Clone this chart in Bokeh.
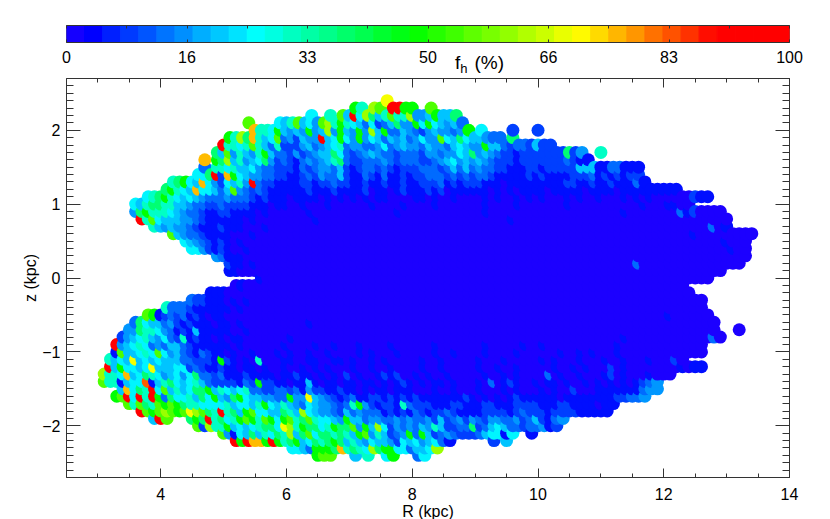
from bokeh.plotting import figure
from bokeh.layouts import column
from bokeh.models import (ColumnDataSource, LinearColorMapper, LinearAxis, FixedTicker,
                          Range1d, Div)
from bokeh.embed import file_html
from bokeh.resources import INLINE
import numpy as np

# colour-class percent values (fh, %) used by the table below
level_codes = "0123456789abcdef"
level_fh = [0.4, 5, 9, 13, 17, 21, 25, 31, 38, 48, 55, 62, 70, 76, 83, 96]

# heights of the rows (kpc)
z_rows = [2.4, 2.3, 2.2, 2.1, 2.0, 1.9, 1.8, 1.7, 1.6, 1.5, 1.4, 1.3, 1.2, 1.1, 1.0, 0.9, 0.8, 0.7,
          0.6, 0.5, 0.4, 0.3, 0.2, 0.1, 0.0, -0.1, -0.2, -0.3, -0.4, -0.5, -0.6, -0.7, -0.8, -0.9,
          -1.0, -1.1, -1.2, -1.3, -1.4, -1.5, -1.6, -1.7, -1.8, -1.9, -2.0, -2.1, -2.2, -2.3, -2.4]

# first R of each text block; one char = one cell of 0.1 kpc, "." = no cell, "-" = empty block
block_R = [3, 4, 5, 6, 7, 8, 9, 10, 11, 12, 13]
fh_rows = [
 "- - - - ......c...",
 "- - - - .97.ba.ff9 9..a......",
 "- - - ....6..7.a 5f6b857a77 b4459558..",
 "- - ....a....6 57a564ab79 7653623584 496965453.",
 "- - .....d7769 5454945b49 5494b59335 4324544349 .6....2... 2.........",
 "- - .97b8d756a 342544f569 6494653545 34644a6586 55433.8...",
 "- - f7767a7537 2224534567 3443346345 4435443565 4495532332 522.......",
 "- .........8 5a47547953 3242345586 3234543323 3324434465 8454322122 22222824.. 7.........",
 "- .......d.9 8b57456842 3213434578 3223334323 3322345645 4543222122 222223211.",
 "- .......3.7 7675564332 2213234435 2123323212 2233323535 3433221112 2122222555 1133111...",
 "- ......668f 2d96544332 2112324335 2113213112 1223332323 2332111112 1211112223 1212122...",
 "- ..78965d64 26574f3221 1112212232 2112112112 1122231212 2211101111 1111122112 11211131..",
 "- .89765d665 35a4323211 1111211121 1112011012 1112120111 1110101011 1101111101 1110111111 111.......",
 "........67 8976565433 3433321211 1011110101 0101011000 0110100100 0010100101 0100010100 1000101010 00000211..",
 "......6578 8775543322 3222211101 1001000100 0000100001 0000100000 0010000100 0000010000 0000000100 01100.....",
 "......4897 7765433211 2211110100 0000100000 0000000010 0000000000 0010000000 0000000000 0000100000 0003120000",
 ".......f7a 6555443211 1111010000 0000010000 0000000000 0000000000 0000001000 0000000000 0000000000 0000000000 0",
 ".........7 5454432111 2111000100 0000000000 0000000000 0000000000 0000000000 0000000000 0000000000 0000000030 1",
 "- ..a5433211 1100010000 0000000000 0000000000 0000000000 0000000000 0000000000 0000000000 0000010000 00000",
 "- ....654321 2101000000 0000000000 0000000000 0000000000 0000000000 0000000000 0000000000 0000000000 1000",
 "- .....66421 2100100000 0000000000 0000000000 0000000000 0000000000 0000000000 0000000000 0000000000 0100",
 "- .........4 3111000000 0000000000 0000000000 0000000000 0000000000 0000000000 0000000000 0000000000 0000",
 "- - .211010000 0000000000 0000000000 0000000000 0000000000 0000000000 0000003000 0000000000 000",
 "- - .110000000 0000000000 0000000000 0000000000 0000000000 0000000000 0000000000 0000000000",
 "- - ......1000 0000000000 0000000000 0000000000 0000000000 0000000000 0000000000 00000000..",
 "- - ..01000000 0000000000 0000000000 0000000000 0000000000 0000000000 0000000000 0000",
 "- ........11 1000000000 0000000000 0000000000 0000000000 0000000000 0000000000 0000000000 00000",
 "- .....32211 1010100000 0000000000 0000000000 0000000000 0000000000 0000000000 0000000000 0000000",
 "- .733321111 1101000000 0000000000 0000000000 0000000000 0000000000 0000000000 0000000000 0000000",
 "........a9 1232312101 1000000000 0000000000 0000000000 0000000000 0000000000 0000000000 0000000000 01000000",
 "......3865 5342121110 1101000000 0000100000 0000000000 0000000000 0000000000 0000000000 0000000000 000000000",
 ".....44877 6431215111 1100100000 0000000000 0000000000 0000000000 0000000000 0000000000 0000000000 000000000. ..0",
 "....245675 4632712110 1011000000 0100000000 0000000000 0000000000 0000000000 0000000000 0000100000 0000000030",
 "...f456763 4355321111 1101000000 1000010010 0010000100 0000100000 0010000010 0100000000 0001000000 0000000",
 "...1a55676 a645321321 1010010001 0100100100 0010100010 0000100100 0010000100 0000100101 0001000000 0000000",
 "..7565c565 6555332221 9210107000 1100110011 0100101000 0010010000 0100010000 0101000100 0100100010 0020",
 "..f596656c 5556623211 2110110100 1001010100 0100100100 0010010000 0100100100 0001001010 0020100000 0001011",
 ".b776d5687 6456468332 3111211110 1121101010 2010012120 0101001000 0010010100 0030100100 0120100010 00",
 ".a771566e1 5786567532 2221329221 1011510110 1101101012 1010110100 0103012100 1011010010 1010101234",
 "....5d687f 6a57568895 7656733223 3231422112 1101011011 1000100100 0100010100 0101002000 1111111344",
 "...9af6f7f 9386675869 5489655443 3944c54321 2311221212 1211111112 1010101211 1111011111 11122334..",
 ".....a7a87 a9a9877666 6756657965 7543654432 3794212217 3222111221 1122111222 2111221111 011.......",
 ".......fa9 aba9acba87 f7859a6655 875b654432 5343331212 1321223211 1122221232 2212222111 11........",
 ".........5 fa...898f7 8679a97a96 9a78a76654 9553443343 4334252342 4324433423 52134.....",
 "- ......a2b7 7956567886 cb79886798 8a495b6243 4354752233 8235653323 3412......",
 "- - a416585768 7b58a68878 759a475234 9395234322 2356616..1",
 "- - ..f9fdd9f9 7895687898 5754655426 5645631... ...2.5....",
 "- - - .66539998d 7876b89966 3556b.....",
 "- - - .....9aa.. .5.7..69.. .36.......",
]

# colour scale stops: percent and RGB of the bar
stop_fh = [0, 3.5, 26, 48, 71, 90, 100]
stop_r = [32, 0, 0, 0, 255, 255, 255]
stop_g = [0, 0, 255, 255, 255, 0, 0]
stop_b = [255, 255, 255, 0, 0, 0, 0]

bar_ticks = [0, 100 / 6, 200 / 6, 50, 400 / 6, 500 / 6, 100]
bar_labels = ["0", "16", "33", "50", "66", "83", "100"]

R_major = [4, 6, 8, 10, 12, 14]
z_major = [-2, -1, 0, 1, 2]

FONT = "Liberation Sans"
INK = "#333333"

# ---------- decode the table
R, z, fh = [], [], []
for zr, row in zip(z_rows, fh_rows):
    for base, block in zip(block_R, row.split()):
        if block == "-":
            continue
        for i, ch in enumerate(block):
            if ch != ".":
                R.append(base + i / 10)
                z.append(zr)
                fh.append(level_fh[level_codes.index(ch)])
order = sorted(range(len(R)), key=lambda k: (R[k], z[k]))
src = ColumnDataSource(dict(R=[R[k] for k in order], z=[z[k] for k in order], fh=[fh[k] for k in order]))

grid = np.linspace(0, 100, 256)
palette = ["#%02x%02x%02x" % (int(round(np.interp(v, stop_fh, stop_r))),
                              int(round(np.interp(v, stop_fh, stop_g))),
                              int(round(np.interp(v, stop_fh, stop_b)))) for v in grid]
mapper = LinearColorMapper(palette=palette, low=0, high=100)


def style(ax, major, minor, mlen, nlen, labels=True):
    ax.ticker = FixedTicker(ticks=major, minor_ticks=minor)
    ax.major_tick_in, ax.major_tick_out = mlen, 0
    ax.minor_tick_in, ax.minor_tick_out = nlen, 0
    ax.major_tick_line_color = ax.minor_tick_line_color = ax.axis_line_color = INK
    ax.major_tick_line_width = ax.minor_tick_line_width = ax.axis_line_width = 1
    if labels:
        ax.major_label_text_font = FONT
        ax.major_label_text_font_size = "16px"
        ax.major_label_text_color = "#000000"
    else:
        ax.major_label_overrides = {t: "" for t in major}
        ax.major_label_standoff = 0


# ---------- colour bar
bar = figure(width=810, height=77, x_range=Range1d(0, 100), y_range=Range1d(0, 1),
             output_backend="svg", toolbar_location=None, min_border_left=66, min_border_right=21,
             min_border_top=25, min_border_bottom=35, frame_width=723, frame_height=17,
             x_axis_location=None, y_axis_location=None)
bar.grid.visible = False
bar.outline_line_color = "#666666"
edges = np.linspace(0, 100, 41)
bar_src = ColumnDataSource(dict(l=edges[:-1], r=edges[1:], m=(edges[:-1] + edges[1:]) / 2))
bar.quad(left="l", right="r", bottom=0, top=1, line_width=1,
         line_color={"field": "m", "transform": mapper},
         fill_color={"field": "m", "transform": mapper}, source=bar_src)
bar_minor = [100 * i / 12 for i in range(13)]
b_ax = LinearAxis()
style(b_ax, bar_ticks, [], 3, 0)
b_ax.major_label_overrides = {t: s for t, s in zip(bar_ticks, bar_labels)}
b_ax.major_label_standoff = 8
bar.add_layout(b_ax, "below")
t_ax = LinearAxis()
style(t_ax, bar_minor, [], 3, 0, labels=False)
bar.add_layout(t_ax, "above")

# the scale's title sits in the space under the bar
title = Div(text=("<span style=\"font:19px/20px 'Liberation Sans';color:#000;white-space:nowrap\">f"
                  "<span style=\"font-size:13px;position:relative;top:4px;line-height:0\">h</span>"
                  "<span style=\"margin-left:7px\">(%)</span></span>"),
            width=70, height=24, margin=(-24, 0, 0, 455))

# ---------- main panel
p = figure(width=810, height=441, x_range=Range1d(2.5, 14), y_range=Range1d(-2.7, 2.7),
           output_backend="svg", toolbar_location=None, min_border_left=66, min_border_right=21,
           min_border_top=1, min_border_bottom=41, frame_width=723, frame_height=399,
           x_axis_location=None, y_axis_location=None)
p.grid.visible = False
p.outline_line_color = None
p.scatter("R", "z", size=13, source=src, line_color=None,
          fill_color={"field": "fh", "transform": mapper})

R_minor = [2.5 + i * 0.5 for i in range(24)]
z_minor = [round(-2.7 + i * 0.1, 1) for i in range(55)]
ax = LinearAxis(axis_label="R (kpc)")
style(ax, R_major, R_minor, 9, 4)
ax.major_label_standoff = 10
ax.axis_label_text_font = FONT
ax.axis_label_text_font_size = "16px"
ax.axis_label_text_font_style = "normal"
ax.axis_label_text_color = "#000000"
ax.axis_label_standoff = 0
p.add_layout(ax, "below")
ay = LinearAxis(axis_label="z (kpc)")
style(ay, z_major, z_minor, 14, 7)
ay.major_label_standoff = 6
ay.axis_label_text_font = FONT
ay.axis_label_text_font_size = "16px"
ay.axis_label_text_font_style = "normal"
ay.axis_label_text_color = "#000000"
ay.axis_label_standoff = 0
p.add_layout(ay, "left")
a3 = LinearAxis()
style(a3, R_major, R_minor, 9, 4, labels=False)
p.add_layout(a3, "above")
a4 = LinearAxis()
style(a4, z_major, z_minor, 14, 7, labels=False)
p.add_layout(a4, "right")

layout = column(bar, title, p, spacing=0)
open("out.html", "w").write(file_html(layout, INLINE))
